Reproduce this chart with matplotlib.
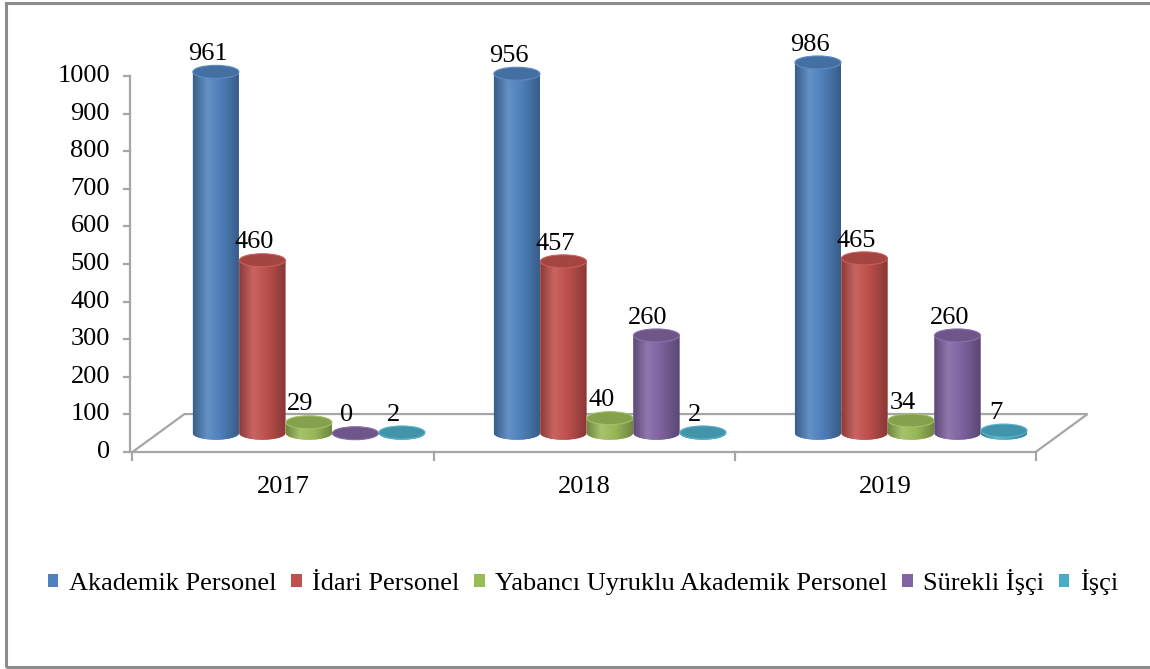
import numpy as np
import matplotlib
matplotlib.use("Agg")
import matplotlib.pyplot as plt
from matplotlib.patches import Ellipse, PathPatch, Polygon, Patch, Rectangle
from matplotlib.path import Path
from matplotlib.colors import LinearSegmentedColormap, to_rgb

plt.rcParams['font.family'] = ['Liberation Serif', 'DejaVu Serif']

# veriler
years = ['2017', '2018', '2019']
series = ['Akademik Personel', 'İdari Personel', 'Yabancı Uyruklu Akademik Personel',
          'Sürekli İşçi', 'İşçi']
akademik = [961, 956, 986]
idari = [460, 457, 465]
yabanci = [29, 40, 34]
surekli = [0, 260, 260]
isci = [2, 2, 7]
values = [akademik, idari, yabanci, surekli, isci]
colors = ['#4f81bd', '#c0504d', '#9bbb59', '#8064a2', '#4bacc6']
yticks = list(range(0, 1001, 100))

fs = 19
fig = plt.figure(figsize=(11.5, 6.69), dpi=100)
ax = fig.add_axes([0, 0, 1, 1])
ax.set_xlim(-0.940, 2.880)
ax.set_ylim(-577.1, 1202.1)
ax.axis('off')

# 3B derinlik kaydirmasi
ddx, ddv = 0.1728, 101
line_c = '#a6a6a6'

# zemin
floor = Polygon([(-0.5, 0), (2.5, 0), (2.5 + ddx, ddv), (-0.5 + ddx, ddv)],
                closed=True, facecolor='none', edgecolor=line_c, lw=1.6, zorder=1)
ax.add_patch(floor)

# y ekseni
ax_x = -0.507
ax.plot([ax_x, ax_x], [0, 1000], color=line_c, lw=1.6, zorder=1)
for t in yticks:
    ax.plot([ax_x - 0.022, ax_x], [t, t], color=line_c, lw=1.6, zorder=1)
    ax.text(-0.575, t, str(t), ha='right', va='center', fontsize=fs)

# x ekseni
for xt in [-0.5, 0.5, 1.5, 2.5]:
    ax.plot([xt, xt], [0, -21], color=line_c, lw=1.6, zorder=1)
for i, y in enumerate(years):
    ax.text(i, -93, y, ha='center', va='center', fontsize=fs)


def shade(c, f):
    r = np.array(to_rgb(c))
    if f < 1:
        return tuple(r * f)
    return tuple(r + (1 - r) * (f - 1))


w = 0.153
ry = 17.3
v0 = 50
z = 3
for i in range(len(years)):
    for k, (vals, col) in enumerate(zip(values, colors)):
        val = vals[i]
        xc = i + 0.086 + (k - 2) * 0.1545
        xl, xr = xc - w / 2, xc + w / 2
        top = v0 + val
        # yan yuzey
        th = np.linspace(np.pi, 2 * np.pi, 40)
        verts = [(xl, top), (xl, v0)]
        verts += [(xc + w / 2 * np.cos(a), v0 + ry * np.sin(a)) for a in th]
        verts += [(xr, top), (xl, top)]
        side = PathPatch(Path(verts), facecolor=col, edgecolor='none', zorder=z)
        ax.add_patch(side)
        cmap = LinearSegmentedColormap.from_list(
            'c', [(0, shade(col, 0.72)), (0.3, shade(col, 1.12)),
                  (0.6, shade(col, 0.98)), (1, shade(col, 0.7))])
        grad = np.linspace(0, 1, 256).reshape(1, -1)
        im = ax.imshow(grad, cmap=cmap, extent=[xl, xr, v0 - ry, top],
                       aspect='auto', origin='lower', interpolation='bicubic',
                       zorder=z + 0.1)
        im.set_clip_path(side)
        # ust elips
        ax.add_patch(Ellipse((xc, top), w, 2 * ry, facecolor=shade(col, 0.86),
                             edgecolor=shade(col, 1.08), lw=0.8, zorder=z + 0.2))
        ax.annotate(str(val), (xc, top), xytext=(-6, 8.5), textcoords='offset points',
                    ha='center', va='baseline', fontsize=fs, zorder=z + 0.3)
        z += 1

# lejant
handles = [Patch(facecolor=c, edgecolor='none') for c in colors]
fig.legend(handles, series, loc='center', bbox_to_anchor=(0.507, 0.130), ncol=5,
           frameon=False, fontsize=fs, handlelength=0.4, handleheight=0.4,
           handletextpad=0.4, columnspacing=0.55, borderaxespad=0)

# cerceve
fig.patches.append(Rectangle((5.5 / 1150, 1 - 667 / 669), 1.1, (667 - 2.5) / 669,
                             transform=fig.transFigure, facecolor='none',
                             edgecolor='#8c8c8c', lw=2.2, zorder=0))

fig.savefig('out.png', dpi=100)
